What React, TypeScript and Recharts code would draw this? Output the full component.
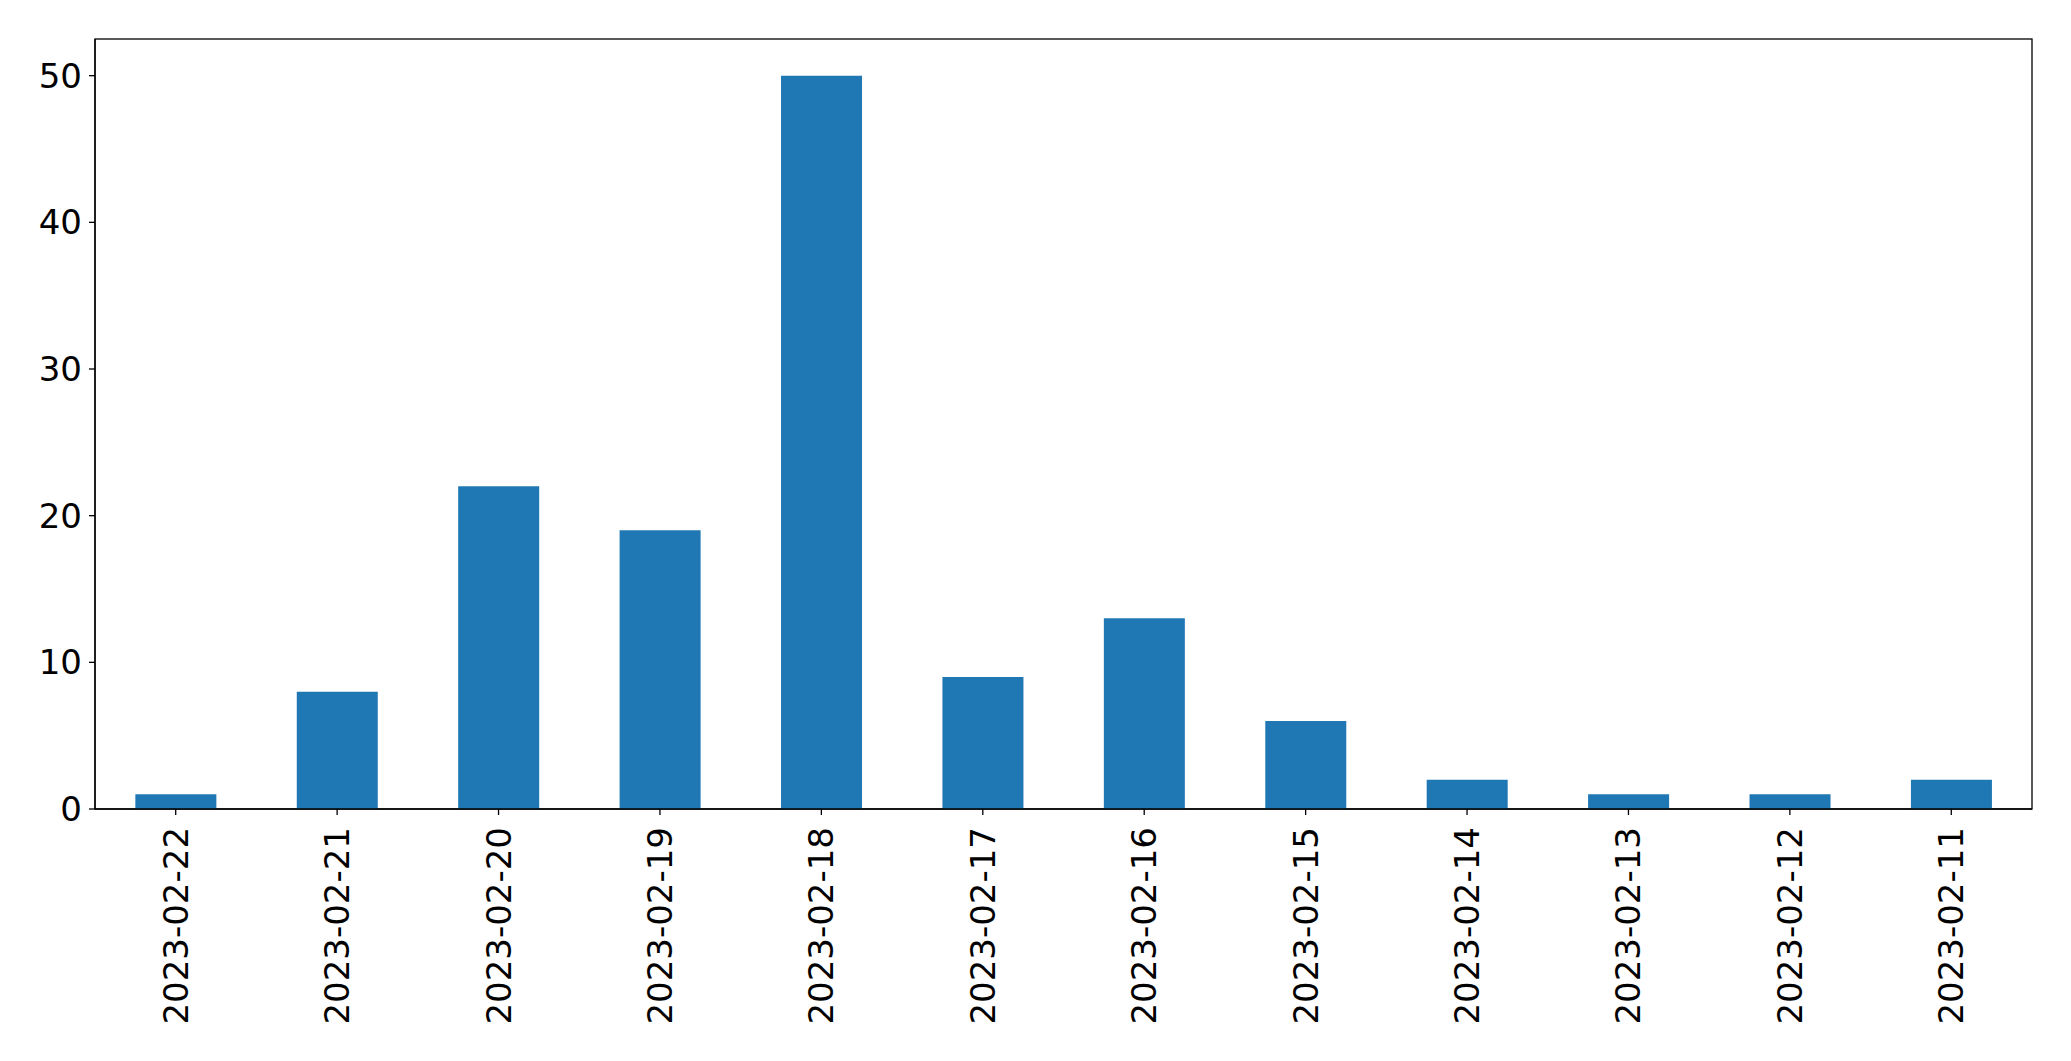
import React from 'react';
import { BarChart, Bar, XAxis, YAxis, usePlotArea } from 'recharts';

const dates = [
  '2023-02-22', '2023-02-21', '2023-02-20', '2023-02-19', '2023-02-18', '2023-02-17',
  '2023-02-16', '2023-02-15', '2023-02-14', '2023-02-13', '2023-02-12', '2023-02-11',
];
const counts = [1, 8, 22, 19, 50, 9, 13, 6, 2, 1, 1, 2];
const yTicks = [0, 10, 20, 30, 40, 50];

const data = dates.map((d, i) => ({ date: d, count: counts[i] }));

const FONT = 'DejaVu Sans';
const FS = 34;

const XTick = (props: any) => {
  const { x, y, payload } = props;
  return (
    <text
      x={x}
      y={y}
      transform={`rotate(-90, ${x}, ${y})`}
      textAnchor="end"
      dominantBaseline="central"
      fontFamily={FONT}
      fontSize={FS}
      fill="#000"
    >
      {payload.value}
    </text>
  );
};

const Frame = () => {
  const area = usePlotArea();
  if (!area) return null;
  return (
    <rect
      x={area.x}
      y={area.y}
      width={area.width}
      height={area.height}
      fill="none"
      stroke="#000"
      strokeWidth={1.3}
    />
  );
};

export default function App() {
  return (
    <div style={{ position: 'absolute', left: 0, top: 0, background: '#fff' }}>
      <BarChart
        width={2071}
        height={1061}
        data={data}
        margin={{ top: 39, right: 39, left: 0, bottom: 0 }}
        barCategoryGap="25%"
      >
        <XAxis
          dataKey="date"
          height={252}
          interval={0}
          tick={<XTick />}
          tickSize={6}
          tickMargin={12}
          stroke="#000"
          axisLine={{ stroke: '#000', strokeWidth: 1.3 }}
          tickLine={{ stroke: '#000', strokeWidth: 1.3 }}
        />
        <YAxis
          width={95}
          domain={[0, 52.5]}
          ticks={yTicks}
          interval={0}
          allowDataOverflow
          tickSize={6}
          tickMargin={7}
          tick={{ fontFamily: FONT, fontSize: FS, fill: '#000' }}
          axisLine={{ stroke: '#000', strokeWidth: 1.3 }}
          tickLine={{ stroke: '#000', strokeWidth: 1.3 }}
        />
        <Bar dataKey="count" fill="#1f77b4" isAnimationActive={false} />
        <Frame />
      </BarChart>
    </div>
  );
}
